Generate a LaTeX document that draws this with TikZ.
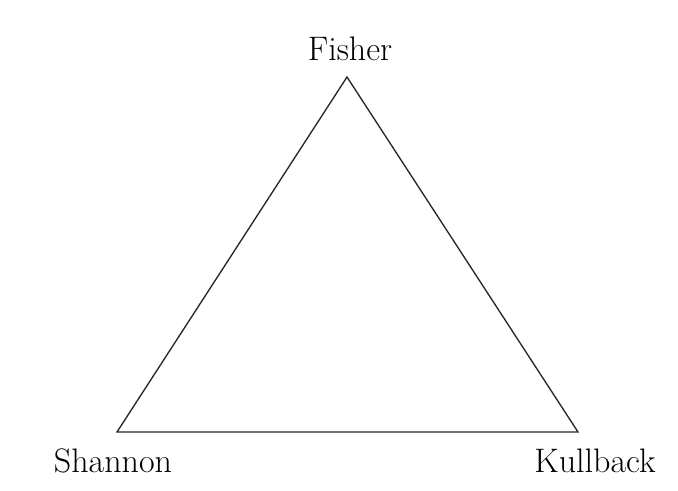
\documentclass[tikz,border=0pt]{standalone}
\usetikzlibrary{positioning}

\begin{document}
\begin{tikzpicture}[x=0.75pt, y=-0.75pt,
    vertex label/.style={inner sep=0pt, font=\fontsize{25.5}{30}\selectfont},
    side/.style={line width=1pt, black!85}]
    \useasboundingbox (0,0) rectangle (678,490);
    % corners of the triangle
    \coordinate (top) at (347,77);
    \coordinate (left) at (117,432);
    \coordinate (right) at (578,432);
    % names at the corners
    \node[vertex label, anchor=base] (fisher) at (350,60) {Fisher};
    \node[vertex label, anchor=base] (shannon) at (113,472) {Shannon};
    \node[vertex label, anchor=base] (kullback) at (595,472) {Kullback};
    \draw[side, line join=miter] (top) -- (right) -- (left) -- cycle;
\end{tikzpicture}
\end{document}
